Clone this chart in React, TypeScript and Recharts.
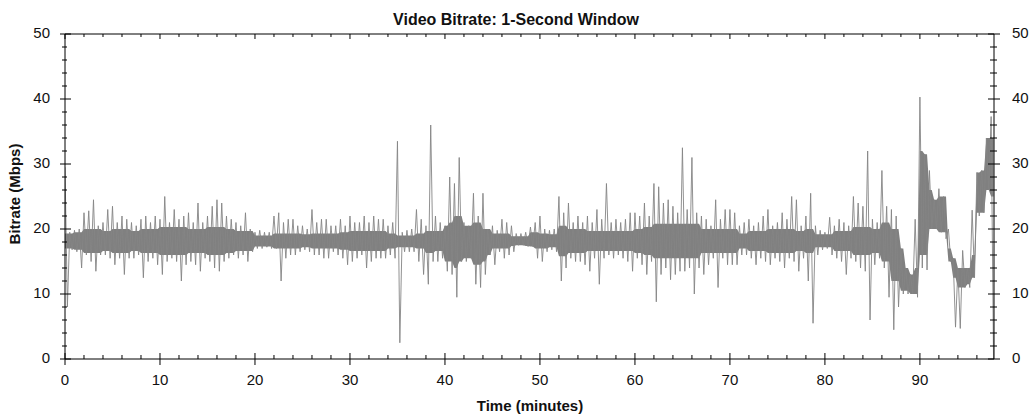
import React from "react";
import { ComposedChart, Area, Line, XAxis, YAxis } from "recharts";

// bitrate envelope, one pair per half-minute bin (Mbps)
const binMinutes = 0.5;

const binHigh = [
  // 0 - 10.5
  29.5, 19.5, 19.8, 20, 22.5, 22.8, 24.5, 20.5, 21, 23, 23.5, 21, 22, 21.5, 21, 20.5, 21.5, 22, 21, 22, 21.5, 25,
  // 11 - 22
  21, 23, 21.5, 22, 22.5, 21, 24, 21, 22, 23.5, 24.5, 24, 22, 21.5, 21, 20.5, 22.5, 20, 19.5, 19.8, 19.5, 19.5, 22,
  // 22.5 - 33
  22.5, 21, 21.5, 21.5, 20.5, 20.5, 20, 23, 21, 21.5, 21.5, 20.5, 20.5, 21.5, 20.5, 22, 21, 21, 22, 21, 22, 21.5,
  // 33.5 - 44
  21.5, 20.5, 21, 33.5, 19.5, 19.8, 20, 23, 21.5, 20.5, 36, 22, 21, 20.5, 28, 27, 31, 21, 20.5, 25.5, 22, 25.5,
  // 44.5 - 55
  20, 20.5, 19.8, 21.5, 21, 20.5, 19.3, 19.3, 19.5, 20.3, 21, 22, 20, 19.8, 20, 25, 22.5, 24, 21, 22, 21, 22,
  // 55.5 - 66
  21, 23, 21.5, 27, 21, 21.5, 21, 21.5, 22.5, 22.5, 22, 24, 22, 27, 26.5, 24, 24.5, 23.5, 22.5, 32.5, 23, 31,
  // 66.5 - 76.5
  22.5, 22, 21.5, 20.5, 24.5, 21.5, 23, 23, 22.5, 20.5, 21, 21.5, 20.5, 21, 22, 23, 20.5, 21, 22.5, 21.5, 25,
  // 77 - 87.5
  24.5, 20.5, 22, 25.5, 20.5, 19.8, 19.5, 21.8, 20.5, 21.5, 21, 20.5, 25, 24, 23.5, 32, 21.5, 21, 29, 23.5, 23, 22,
  // 88 - 97.5
  17, 14, 13, 21.5, 40.3, 31.5, 29, 24.5, 26.2, 25, 20, 15.5, 14, 16.7, 14, 22.9, 28.7, 29, 34, 37.3,
];

const binLow = [
  // 0 - 10.5
  8, 16.8, 16.5, 14, 16, 15, 13.5, 16, 16, 15.5, 14.5, 15.5, 13, 15.5, 15.5, 16, 12.5, 15, 15.5, 14.5, 13, 15,
  // 11 - 22
  15.5, 15, 12, 14.5, 15, 14.5, 13.5, 15.5, 15, 14, 13.5, 15, 15.5, 16, 15.5, 16, 15, 16.5, 17, 17, 17.2, 17, 17,
  // 22.5 - 33
  12, 15.5, 16, 16, 16.5, 16.8, 16.5, 16, 16, 15.5, 15.5, 16.5, 16, 15.5, 14.5, 15, 15.5, 16, 14, 15, 15.5, 15.5,
  // 33.5 - 44
  15.5, 16, 15.5, 2.5, 16.5, 16.5, 16.5, 15, 13, 11.5, 15, 15, 15.5, 13.5, 13, 9.5, 15, 15, 15.5, 11.5, 11, 13,
  // 44.5 - 55
  16, 14.5, 16.5, 15.5, 16, 16.5, 17.5, 17.5, 17.3, 17.3, 15.5, 15, 16.5, 16.8, 16.5, 12, 14, 15.5, 15, 15, 14.5, 13.5,
  // 55.5 - 66
  15.5, 11.5, 15.5, 16, 15.5, 16, 15.5, 15, 13.5, 15.5, 14.5, 13, 15, 8.8, 13, 14, 12.2, 13, 13.5, 13.5, 14, 10,
  // 66.5 - 76.5
  14, 13, 14.5, 15.5, 11, 15.5, 14.5, 14.5, 14.5, 16, 16, 15.5, 14.5, 15.5, 15, 14.5, 15.5, 15, 14, 15.5, 15,
  // 77 - 87.5
  13.5, 15.5, 12, 5.5, 16, 16.8, 17, 16, 15.5, 15, 13, 15.5, 15, 14, 13.5, 6, 14.5, 15.5, 14, 9.5, 4.5, 8,
  // 88 - 97.5
  10, 10, 10, 9.5, 14, 13.7, 20, 20, 19.5, 18.5, 15, 4.9, 4.7, 11, 11, 12.5, 22, 22.5, 26, 0,
];

// dense core of the trace, one pair per minute
const coreBottom = [
  17, 16.8, 16.3, 16.3, 16.6, 16.3, 16.3, 16.6, 16.3, 16.3,
  16, 16, 16, 16.3, 16.3, 16, 16, 16.3, 16.6, 16.6,
  17.3, 17.3, 17, 17, 17, 17.2, 17, 17, 17, 16.8,
  16.6, 16.6, 16.6, 16.6, 17, 17.2, 17.2, 17, 16.3, 16.6,
  15, 14, 15.5, 14.5, 15, 17, 17, 17.4, 17.4, 17,
  17, 17.2, 15.8, 16.3, 16.3, 16.6, 16.6, 16.6, 16.6, 16.6,
  16.3, 16, 15.5, 15.5, 15.5, 15.5, 15.5, 16.3, 16.3, 16.3,
  16.3, 17, 16.6, 16.6, 16.3, 16.3, 16.3, 16.6, 16.3, 17.2,
  17.2, 16.6, 16.6, 16, 16, 16.3, 15, 12, 10.5, 10,
  16, 20, 19.5, 12.5, 11, 11.5, 22.5, 25,
];
const coreTop = [
  19.3, 19.5, 20, 20, 19.7, 20, 20, 19.7, 20, 20,
  20.3, 20.3, 20.3, 20, 20, 20.3, 20.3, 20, 19.7, 19.7,
  19, 19, 19.3, 19.3, 19.3, 19.2, 19.3, 19.3, 19.3, 19.5,
  19.7, 19.7, 19.7, 19.7, 19.3, 19, 19, 19.3, 19.7, 19.7,
  21, 22, 20.5, 21, 20, 19.3, 19.3, 18.9, 18.9, 19.5,
  19.3, 19.2, 20.5, 20, 20, 19.7, 19.7, 19.7, 19.7, 19.7,
  20, 20.3, 20.8, 20.8, 20.8, 20.8, 20.8, 20, 20, 20,
  20, 19.3, 19.7, 19.7, 20, 20, 20, 19.7, 20, 19.2,
  19.2, 19.7, 19.7, 20.3, 20.3, 20, 21, 20, 17, 14,
  32, 26, 25, 17, 14, 16, 29, 34,
];

const xTicks = [
  0, 2, 4, 6, 8, 10, 12, 14, 16, 18, 20, 22, 24, 26, 28, 30, 32, 34, 36, 38, 40, 42, 44, 46, 48,
  50, 52, 54, 56, 58, 60, 62, 64, 66, 68, 70, 72, 74, 76, 78, 80, 82, 84, 86, 88, 90, 92, 94, 96,
];
const yTicks = [
  0, 2, 4, 6, 8, 10, 12, 14, 16, 18, 20, 22, 24, 26, 28, 30, 32, 34, 36, 38, 40, 42, 44, 46, 48, 50,
];

const clamp = (v: number, lo: number, hi: number) => Math.min(Math.max(v, lo), hi);

const data = binHigh.flatMap((hi, i) => {
  const t = i * binMinutes;
  const lo = binLow[i];
  const m = Math.floor(t);
  const core = [clamp(coreBottom[m], lo, hi), clamp(coreTop[m], lo, hi)];
  return [
    { t, rate: hi, core },
    { t: t + binMinutes / 2, rate: lo, core },
  ];
});

const FONT = "Arial, 'Liberation Sans', sans-serif";
const INK = "#111";

const isMajor = (v: number) => v % 10 === 0;

function BottomTick({ x, y, payload }: any) {
  const major = isMajor(payload.value);
  return (
    <g>
      <line x1={x} x2={x} y1={major ? y - 6 : y - 4} y2={major ? y + 6 : y} stroke="#000" />
      {major && (
        <text x={x} y={y + 26} textAnchor="middle" fontFamily={FONT} fontSize={15} fill={INK}>
          {payload.value}
        </text>
      )}
    </g>
  );
}

function TopTick({ x, y, payload }: any) {
  const major = isMajor(payload.value);
  return <line x1={x} x2={x} y1={y} y2={y + (major ? 5 : 3)} stroke="#000" />;
}

function LeftTick({ x, y, payload }: any) {
  const major = isMajor(payload.value);
  return (
    <g>
      <line x1={major ? x - 5 : x - 3} x2={major ? x + 6 : x + 2} y1={y} y2={y} stroke="#000" />
      {major && (
        <text x={x - 15} y={y + 4} textAnchor="end" fontFamily={FONT} fontSize={15} fill={INK}>
          {payload.value}
        </text>
      )}
    </g>
  );
}

function RightTick({ x, y, payload }: any) {
  const major = isMajor(payload.value);
  return (
    <g>
      <line x1={major ? x - 6 : x - 4} x2={major ? x + 6 : x + 3} y1={y} y2={y} stroke="#000" />
      {major && (
        <text x={x + 18} y={y + 4} textAnchor="start" fontFamily={FONT} fontSize={15} fill={INK}>
          {payload.value}
        </text>
      )}
    </g>
  );
}

export default function App() {
  return (
    <div style={{ position: "absolute", left: 0, top: 0, width: 1032, height: 417, background: "#fff" }}>
      <ComposedChart width={1032} height={417} data={data} margin={{ top: 0, right: 0, bottom: 0, left: 0 }}>
        <XAxis
          dataKey="t"
          type="number"
          domain={[0, 97.8]}
          allowDataOverflow
          ticks={xTicks}
          interval={0}
          height={58}
          tickSize={0}
          tickMargin={0}
          tickLine={false}
          tick={BottomTick}
          axisLine={{ stroke: "#000" }}
        />
        <XAxis
          xAxisId="top"
          dataKey="t"
          orientation="top"
          type="number"
          domain={[0, 97.8]}
          allowDataOverflow
          ticks={xTicks}
          interval={0}
          height={34}
          tickSize={0}
          tickMargin={0}
          tickLine={false}
          tick={TopTick}
          axisLine={{ stroke: "#000" }}
        />
        <YAxis
          type="number"
          domain={[0, 50]}
          allowDataOverflow
          ticks={yTicks}
          interval={0}
          width={65}
          tickSize={0}
          tickMargin={0}
          tickLine={false}
          tick={LeftTick}
          axisLine={{ stroke: "#000" }}
        />
        <YAxis
          yAxisId="right"
          orientation="right"
          type="number"
          domain={[0, 50]}
          allowDataOverflow
          ticks={yTicks}
          interval={0}
          width={38}
          tickSize={0}
          tickMargin={0}
          tickLine={false}
          tick={RightTick}
          axisLine={{ stroke: "#000" }}
        />
        <Area
          type="linear"
          dataKey="core"
          stroke="none"
          fill="#808080"
          fillOpacity={1}
          isAnimationActive={false}
        />
        <Line
          type="linear"
          dataKey="rate"
          stroke="#858585"
          strokeWidth={0.9}
          dot={false}
          isAnimationActive={false}
        />
      </ComposedChart>
      <svg
        width={1032}
        height={417}
        style={{ position: "absolute", left: 0, top: 0, pointerEvents: "none" }}
      >
        <text x={516} y={25} textAnchor="middle" fontFamily={FONT} fontSize={16} fontWeight="bold" fill={INK}>
          Video Bitrate: 1-Second Window
        </text>
        <text x={530} y={411} textAnchor="middle" fontFamily={FONT} fontSize={15} fontWeight="bold" fill={INK}>
          Time (minutes)
        </text>
        <text
          transform="translate(20,194) rotate(-90)"
          textAnchor="middle"
          fontFamily={FONT}
          fontSize={15}
          fontWeight="bold"
          fill={INK}
        >
          Bitrate (Mbps)
        </text>
      </svg>
    </div>
  );
}
